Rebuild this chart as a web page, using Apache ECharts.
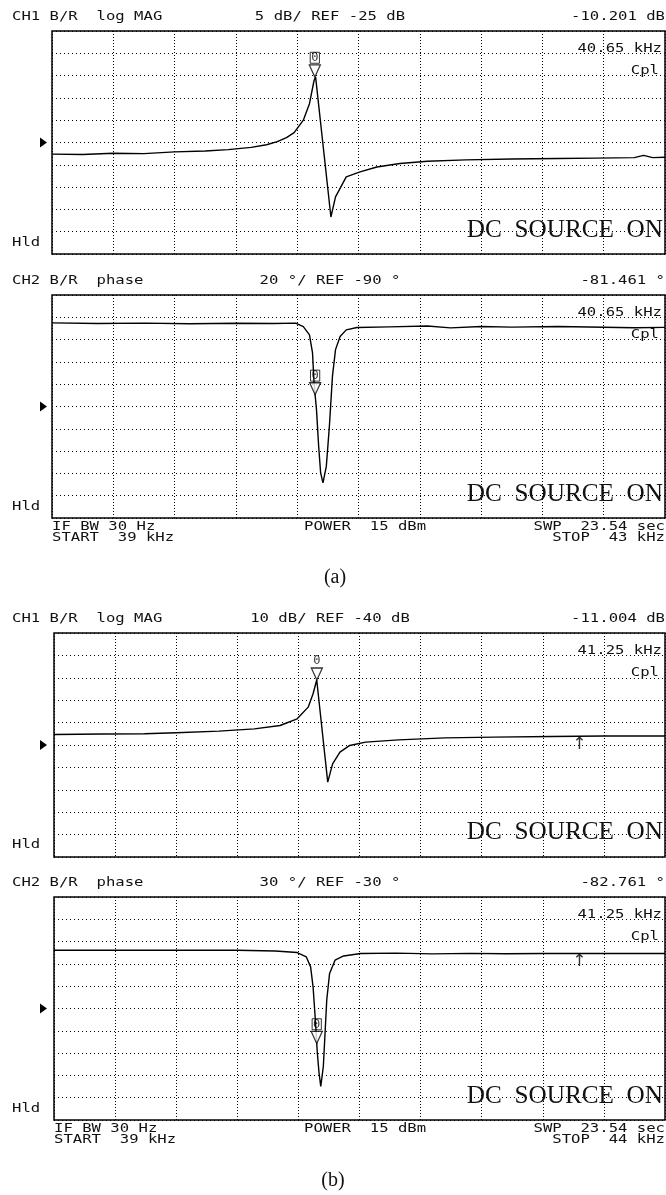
<!DOCTYPE html>
<html>
<head>
<meta charset="utf-8">
<script src="https://cdn.jsdelivr.net/npm/echarts@6.0.0/dist/echarts.min.js"></script>
<style>
html, body { margin: 0; padding: 0; background: #fff; }
#chartContainer { width: 666px; height: 1195px; }
</style>
</head>
<body>
<div id="chartContainer"></div>
<script>
// (a) sweep 39 - 43 kHz
var freqA1 = [39.00, 39.20, 39.40, 39.60, 39.80, 40.00, 40.15, 40.30, 40.40, 40.47, 40.53, 40.58, 40.64, 40.68, 40.71, 40.72, 40.82, 40.85, 40.92, 41.01, 41.12, 41.27, 41.45, 41.70, 42.00, 42.30, 42.55, 42.80, 42.86, 42.92, 43.00];
var magA1 = [-27.6, -27.7, -27.4, -27.5, -27.1, -26.9, -26.6, -26.1, -25.5, -24.8, -23.9, -22.8, -20.0, -16.3, -11.1, -10.3, -41.7, -37.2, -32.7, -31.6, -30.5, -29.7, -29.2, -28.9, -28.7, -28.6, -28.5, -28.4, -27.9, -28.4, -28.3];
var freqA2 = [39.00, 39.30, 39.60, 39.90, 40.20, 40.45, 40.59, 40.64, 40.68, 40.70, 40.71, 40.726, 40.74, 40.753, 40.768, 40.79, 40.81, 40.83, 40.85, 40.88, 40.92, 40.99, 41.20, 41.45, 41.60, 41.80, 42.00, 42.30, 42.60, 42.80, 43.00];
var phaseA2 = [-15.0, -15.6, -15.2, -15.8, -15.3, -15.5, -15.2, -18.4, -25.8, -42.0, -69.0, -93.0, -125.7, -149.6, -158.5, -143.7, -107.8, -63.0, -39.0, -27.3, -21.3, -19.2, -18.6, -17.8, -19.5, -18.2, -18.8, -18.3, -18.9, -19.4, -19.0];
var markerA1 = [40.715, -10.3];
var markerA2 = [40.717, -79.5];

// (b) sweep 39 - 44 kHz
var freqB1 = [39.00, 39.40, 39.74, 40.00, 40.35, 40.64, 40.85, 40.99, 41.08, 41.12, 41.15, 41.24, 41.28, 41.34, 41.42, 41.55, 41.82, 42.20, 42.60, 43.07, 43.50, 44.00];
var magB1 = [-35.3, -35.1, -35.0, -34.5, -33.8, -32.8, -31.3, -28.3, -23.1, -17.1, -11.0, -56.6, -48.4, -43.2, -40.2, -38.7, -37.7, -36.8, -36.5, -36.2, -36.0, -36.0];
var freqB2 = [39.00, 39.50, 40.00, 40.50, 40.81, 40.99, 41.065, 41.10, 41.12, 41.137, 41.155, 41.169, 41.183, 41.204, 41.218, 41.232, 41.255, 41.30, 41.37, 41.51, 41.80, 42.10, 42.40, 42.70, 43.00, 43.50, 44.00];
var phaseB2 = [48.3, 48.3, 48.3, 48.3, 47.4, 45.3, 39.4, 26.0, -0.8, -41.0, -90.0, -116.8, -134.7, -108.0, -63.2, -18.6, 17.0, 35.0, 40.7, 43.9, 44.5, 43.5, 44.2, 43.6, 44.0, 44.0, 44.0];
var markerB1 = [41.151, -11.0];
var markerB2 = [41.15, -77.0];
var arrowB1 = [43.30, -36.2];
var arrowB2 = [43.30, 44.0];

// screen texts
var headers = [
    ["CH1 B/R  log MAG", "5 dB/ REF -25 dB", "-10.201 dB"],
    ["CH2 B/R  phase", "20 °/ REF -90 °", "-81.461 °"],
    ["CH1 B/R  log MAG", "10 dB/ REF -40 dB", "-11.004 dB"],
    ["CH2 B/R  phase", "30 °/ REF -30 °", "-82.761 °"]
];
var markerText = ["40.65 kHz", "40.65 kHz", "41.25 kHz", "41.25 kHz"];
var footA = ["IF BW 30 Hz", "START  39 kHz", "POWER  15 dBm", "SWP  23.54 sec", "STOP  43 kHz"];
var footB = ["IF BW 30 Hz", "START  39 kHz", "POWER  15 dBm", "SWP  23.54 sec", "STOP  44 kHz"];

var panels = [
    {left: 52, top: 31, width: 613, height: 223, xMin: 39, xMax: 43, yMin: -50, yMax: 0, freq: freqA1, vals: magA1, marker: markerA1, box: true},
    {left: 52, top: 295, width: 613, height: 223, xMin: 39, xMax: 43, yMin: -190, yMax: 10, freq: freqA2, vals: phaseA2, marker: markerA2, box: true},
    {left: 54, top: 633, width: 611, height: 224, xMin: 39, xMax: 44, yMin: -90, yMax: 10, freq: freqB1, vals: magB1, marker: markerB1, arrow: arrowB1, box: false},
    {left: 54, top: 897, width: 611, height: 223, xMin: 39, xMax: 44, yMin: -180, yMax: 120, freq: freqB2, vals: phaseB2, marker: markerB2, arrow: arrowB2, box: true}
];

var MONO = '12px "DejaVu Sans Mono"';
var SX = 1.3;

function txt(x, y, s, align, font, sx) {
    return {
        type: 'text', x: x, y: y, scaleX: sx || SX, z: 10, silent: true,
        style: {text: s, font: font || MONO, fill: '#111', textAlign: align || 'left', textVerticalAlign: 'middle'}
    };
}

var grids = [], xAxes = [], yAxes = [], series = [], graphics = [];

panels.forEach(function(p, i) {
    grids.push({left: p.left, top: p.top, width: p.width, height: p.height, show: true, borderColor: '#000', borderWidth: 1.5});
    xAxes.push({gridIndex: i, type: 'value', min: p.xMin, max: p.xMax, show: false});
    xAxes.push({gridIndex: i, type: 'value', min: 0, max: 10, interval: 1,
        axisLine: {show: false}, axisTick: {show: false}, axisLabel: {show: false},
        splitLine: {show: true, lineStyle: {color: '#000', width: 1, type: [1, 2]}}});
    yAxes.push({gridIndex: i, type: 'value', min: p.yMin, max: p.yMax, show: false});
    yAxes.push({gridIndex: i, type: 'value', min: 0, max: 10, interval: 1,
        axisLine: {show: false}, axisTick: {show: false}, axisLabel: {show: false},
        splitLine: {show: true, lineStyle: {color: '#000', width: 1, type: [1, 3]}}});

    series.push({
        type: 'line', xAxisIndex: 2 * i, yAxisIndex: 2 * i, silent: true, z: 3,
        symbol: 'none', lineStyle: {color: '#000', width: 1.4},
        data: p.freq.map(function(f, k) { return [f, p.vals[k]]; })
    });
    series.push({
        type: 'scatter', xAxisIndex: 2 * i, yAxisIndex: 2 * i, silent: true, z: 4,
        symbol: 'path://M0,0L10,0L5,11Z', symbolSize: [11, 12], symbolOffset: [0, -6],
        itemStyle: {color: '#fff', borderColor: '#000', borderWidth: 1.3},
        label: {
            show: true, position: 'top', distance: 1, formatter: '0', color: '#000',
            fontFamily: 'DejaVu Sans Mono', fontSize: 12, lineHeight: 12,
            borderColor: p.box ? '#000' : 'transparent', borderWidth: 1, padding: [0, 1, -1, 1]
        },
        data: [p.marker]
    });
    if (p.arrow) {
        series.push({
            type: 'scatter', xAxisIndex: 2 * i, yAxisIndex: 2 * i, silent: true, z: 4,
            symbolSize: 1, itemStyle: {color: 'transparent'},
            label: {show: true, position: 'bottom', distance: 1, formatter: '↑', color: '#000', fontFamily: 'DejaVu Sans', fontSize: 17, lineHeight: 14},
            data: [p.arrow]
        });
    }

    var h = headers[i];
    var T = p.top, L = p.left, B = p.top + p.height;
    graphics.push(txt(12, T - 14, h[0], 'left'));
    graphics.push(txt(330, T - 14, h[1], 'center'));
    graphics.push(txt(665, T - 14, h[2], 'right'));
    graphics.push(txt(662, T + 18, markerText[i], 'right'));
    graphics.push(txt(659, T + 40, 'Cpl', 'right'));
    graphics.push(txt(12, T + 212, 'Hld', 'left'));
    graphics.push(txt(663, T + 199, 'DC  SOURCE  ON', 'right', '26px "Liberation Serif"', 0.97));
    // reference position arrow on the left
    var yc = T + p.height / 2;
    graphics.push({type: 'polygon', silent: true, shape: {points: [[40, yc - 5], [47, yc], [40, yc + 5]]}, style: {fill: '#000'}});

    if (i === 1 || i === 3) {
        var f = i === 1 ? footA : footB;
        graphics.push(txt(L, B + 9, f[0], 'left'));
        graphics.push(txt(L, B + 20, f[1], 'left'));
        graphics.push(txt(304, B + 9, f[2], 'left'));
        graphics.push(txt(665, B + 9, f[3], 'right'));
        graphics.push(txt(665, B + 20, f[4], 'right'));
    }
});

graphics.push(txt(335, 578, '(a)', 'center', '20px "Liberation Serif"', 1));
graphics.push(txt(333, 1181, '(b)', 'center', '20px "Liberation Serif"', 1));

var myChart = echarts.init(document.getElementById('chartContainer'));
myChart.setOption({
    animation: false,
    backgroundColor: '#fff',
    grid: grids,
    xAxis: xAxes,
    yAxis: yAxes,
    series: series,
    graphic: graphics
});
</script>
</body>
</html>
